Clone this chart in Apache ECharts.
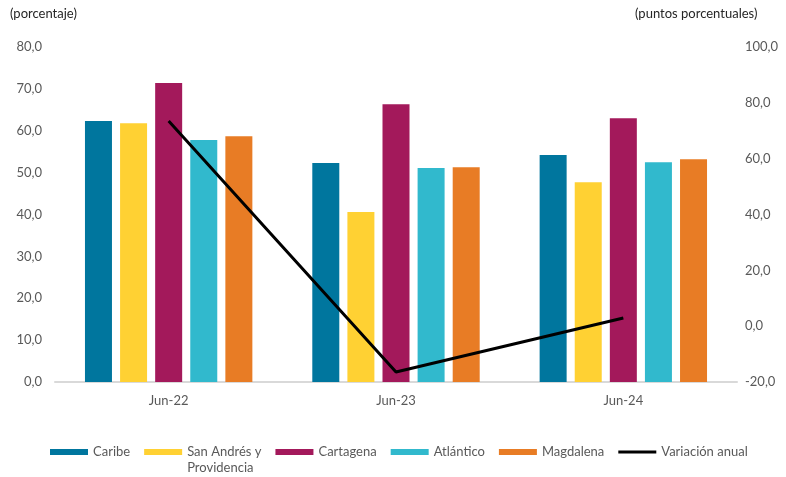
<!DOCTYPE html>
<html><head><meta charset="utf-8">
<script src="https://cdn.jsdelivr.net/npm/echarts@6/dist/echarts.min.js"></script>
<style>html,body{margin:0;padding:0;background:#fff}#c{width:786px;height:477px}</style>
</head><body><div id="c"></div>
<script>
var categories = ['Jun-22', 'Jun-23', 'Jun-24'];
var caribe = [62.3, 52.3, 54.2];
var sanAndres = [61.8, 40.6, 47.7];
var cartagena = [71.4, 66.3, 63.0];
var atlantico = [57.8, 51.1, 52.5];
var magdalena = [58.7, 51.3, 53.2];
var variacion = [73.5, -16.4, 2.9];
var leftTicks = [0, 80, 10];
var rightTicks = [-20, 100, 20];

var font = 'Lato';
var grey = '#595959';
function bar(name, data, color) {
  return { name: name, type: 'bar', data: data, barWidth: 27, barGap: '30%',
    itemStyle: { color: color }, yAxisIndex: 0 };
}
var chart = echarts.init(document.getElementById('c'));
chart.setOption({
  animation: false,
  textStyle: { fontFamily: font },
  grid: { left: 55, right: 49, top: 47, bottom: 95 },
  graphic: [
    { type: 'text', left: 10, top: 7, style: { text: '(porcentaje)', fill: '#262626', font: '13px Lato' } },
    { type: 'text', left: 635, top: 7, style: { text: '(puntos porcentuales)', fill: '#262626', font: '13px Lato' } }
  ],
  legend: {
    top: 423, left: 45, itemWidth: 38, itemHeight: 6, itemGap: 14,
    textStyle: { color: grey, fontSize: 13, fontFamily: font, lineHeight: 16 },
    formatter: function (n) {
      return n === 'San Andrés y Providencia' ? ' \nSan Andrés y\nProvidencia' : n;
    },
    data: [
      { name: 'Caribe', icon: 'rect' },
      { name: 'San Andrés y Providencia', icon: 'rect' },
      { name: 'Cartagena', icon: 'rect' },
      { name: 'Atlántico', icon: 'rect' },
      { name: 'Magdalena', icon: 'rect' },
      { name: 'Variación anual', icon: 'path://M0 0H38V3H0Z' }
    ]
  },
  xAxis: {
    type: 'category', data: categories,
    axisLine: { lineStyle: { color: '#d9d9d9', width: 2 } },
    axisTick: { show: false },
    axisLabel: { color: grey, fontSize: 13, margin: 12, fontFamily: font }
  },
  yAxis: [
    { type: 'value', min: leftTicks[0], max: leftTicks[1], interval: leftTicks[2],
      splitLine: { show: false }, axisLine: { show: false }, axisTick: { show: false },
      axisLabel: { color: grey, fontSize: 13, margin: 13, fontFamily: font,
        formatter: function (v) { return v.toFixed(1).replace('.', ','); } } },
    { type: 'value', min: rightTicks[0], max: rightTicks[1], interval: rightTicks[2],
      splitLine: { show: false }, axisLine: { show: false }, axisTick: { show: false },
      axisLabel: { color: grey, fontSize: 13, margin: 8, fontFamily: font,
        formatter: function (v) { return v.toFixed(1).replace('.', ','); } } }
  ],
  series: [
    bar('Caribe', caribe, '#00769E'),
    bar('San Andrés y Providencia', sanAndres, '#FFD133'),
    bar('Cartagena', cartagena, '#A3195B'),
    bar('Atlántico', atlantico, '#31B9CD'),
    bar('Magdalena', magdalena, '#E87C25'),
    { name: 'Variación anual', type: 'line', yAxisIndex: 1, data: variacion,
      symbol: 'none', lineStyle: { color: '#000', width: 3 }, itemStyle: { color: '#000' } }
  ]
});
</script></body></html>
